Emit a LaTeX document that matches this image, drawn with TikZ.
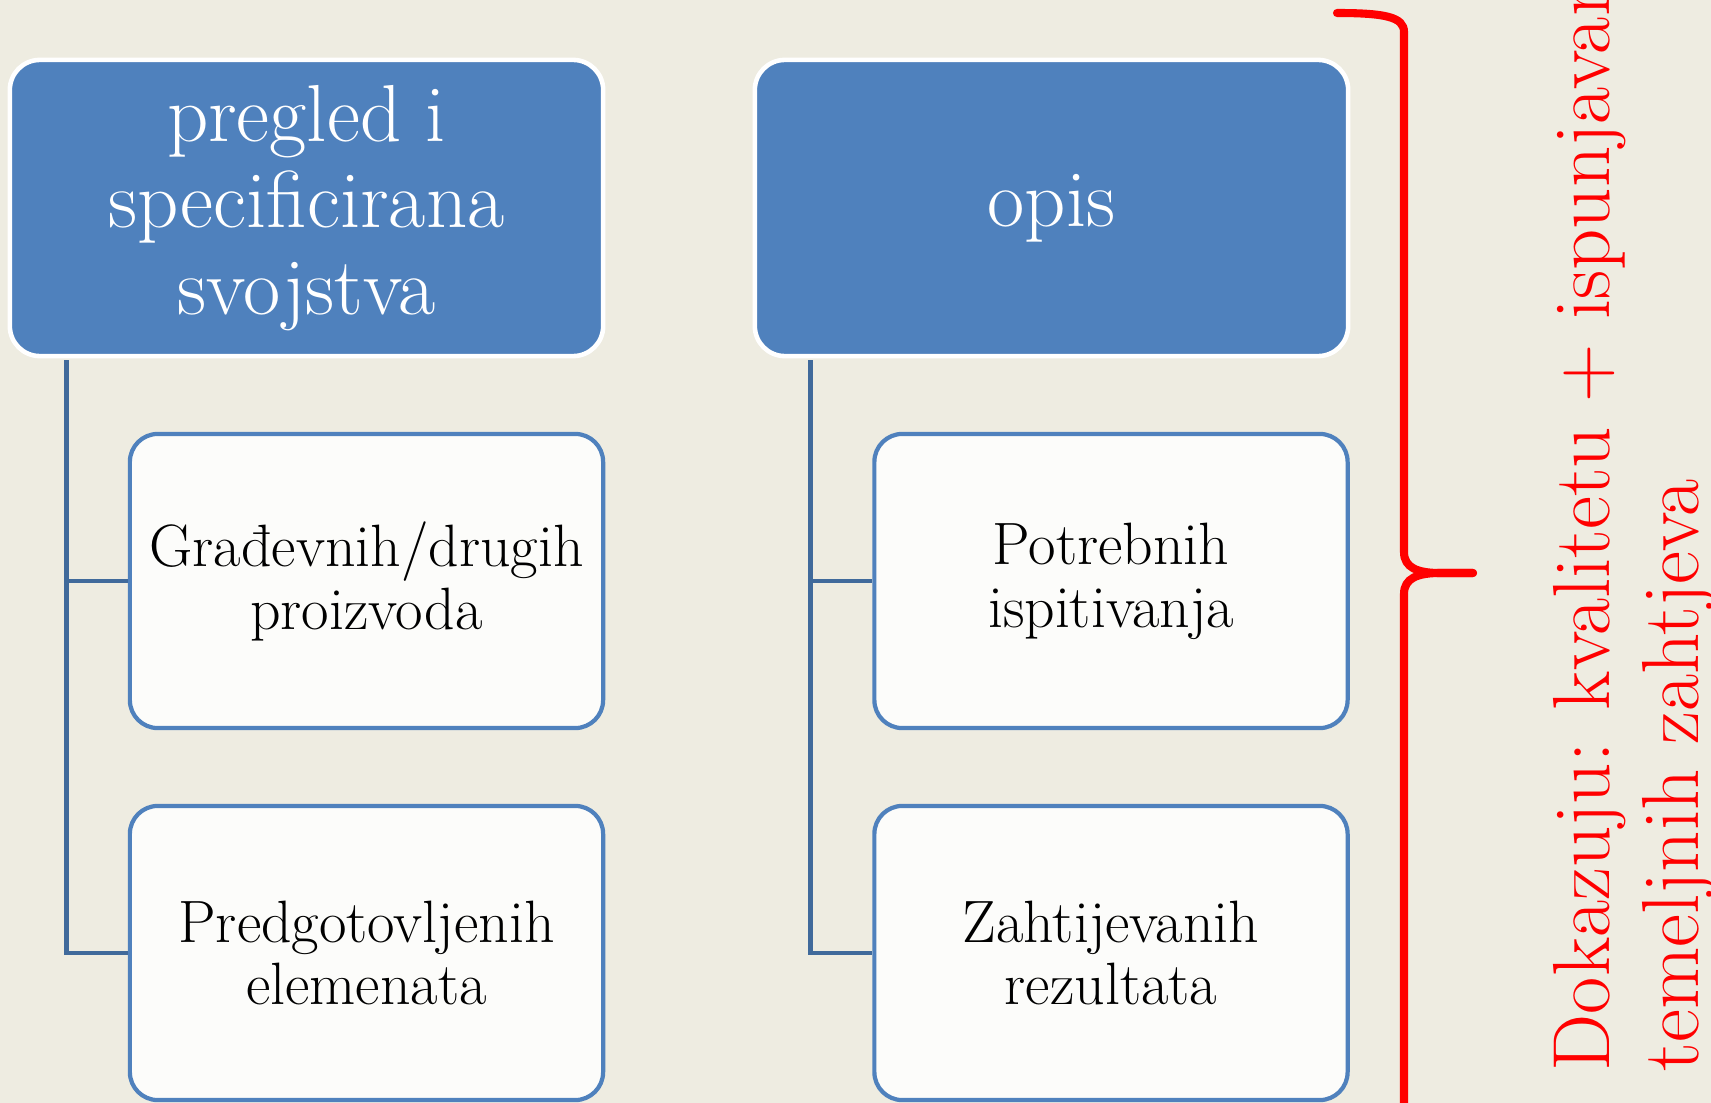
\documentclass[tikz,border=0pt]{standalone}
\definecolor{paper}{RGB}{238,236,225}
\definecolor{accent}{RGB}{79,129,189}
\definecolor{linkc}{RGB}{64,106,155}
\definecolor{boxfill}{RGB}{252,252,250}

\begin{document}
\begin{tikzpicture}[x=0.01cm, y=-0.01cm, head/.style={draw=white, line width=1.3pt, fill=accent, rounded corners=0.3cm, minimum width=5.93cm, minimum height=2.96cm, inner sep=0pt, text=white, align=center, font=\fontsize{23}{24.7}\selectfont}, item/.style={draw=accent, line width=1.2pt, fill=boxfill, rounded corners=0.28cm, minimum width=4.73cm, minimum height=2.94cm, inner sep=0pt, align=center, font=\fontsize{17}{17.9}\selectfont}, link/.style={draw=linkc, line width=1.2pt}]
	\clip (0,0) rectangle (1711,1103);
	\fill[paper] (0,0) rectangle (1711,1103);
	\node[head] (h1) at (306.5,208) {pregled i\\specificirana\\svojstva};
	\node[head] (h2) at (1051.5,208) {opis};
	\node[item] (a1) at (366.5,581) {Građevnih/drugih\\proizvoda};
	\node[item] (a2) at (366.5,953) {Predgotovljenih\\elemenata};
	\node[item] (b1) at (1111,581) {Potrebnih\\ispitivanja};
	\node[item] (b2) at (1111,953) {Zahtijevanih\\rezultata};
	\draw[link] ([xshift=0.59cm, yshift=-0.02cm]h1.south west) |- (a1.west);
	\draw[link] ([xshift=0.59cm, yshift=-0.02cm]h1.south west) |- (a2.west);
	\draw[link] ([xshift=0.58cm, yshift=-0.02cm]h2.south west) |- (b1.west);
	\draw[link] ([xshift=0.58cm, yshift=-0.02cm]h2.south west) |- (b2.west);
	\draw[red, line width=2.3pt, line cap=round] (1337,13) .. controls (1385,13) and (1404,17) .. (1404,32) -- (1404,552) .. controls (1404,568) and (1418,573) .. (1440,573) -- (1473,573);
	\draw[red, line width=2.3pt, line cap=round] (1473,573) -- (1440,573) .. controls (1418,573) and (1404,578) .. (1404,594) -- (1404,1115) .. controls (1404,1129) and (1385,1133) .. (1337,1133);
	\node[text=red, rotate=90, anchor=north west, inner sep=0pt, align=left, font=\fontsize{23}{25.3}\selectfont] (proof) at (1553,1072) {Dokazuju: kvalitetu + ispunjavanje\\temeljnih zahtjeva};
\end{tikzpicture}
\end{document}
